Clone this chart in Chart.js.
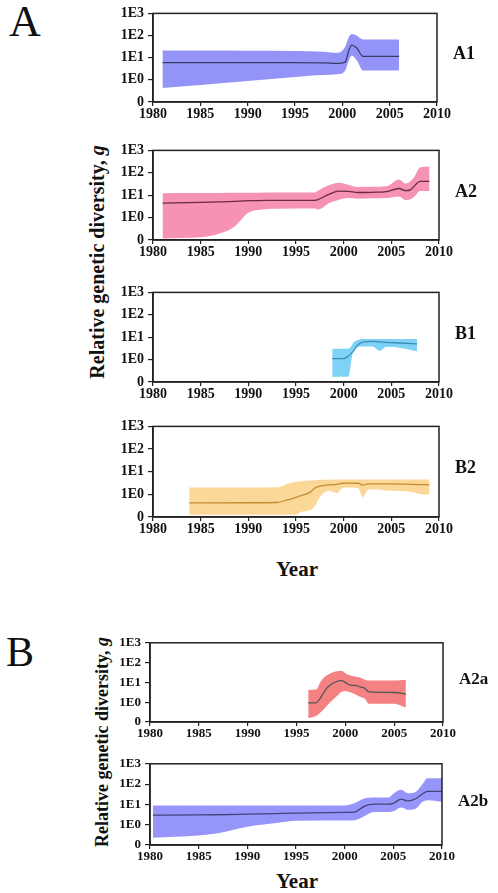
<!DOCTYPE html>
<html>
<head>
<meta charset="utf-8">
<script src="https://cdn.jsdelivr.net/npm/chart.js@4.4.1/dist/chart.umd.min.js"></script>
<style>
  body { margin: 0; background: #fff; width: 498px; height: 893px; position: relative; overflow: hidden; font-family: "Liberation Serif", "Times New Roman", serif; }
  canvas { position: absolute; }
  .lbl { position: absolute; font-weight: bold; color: #111; white-space: nowrap; }
  .big { position: absolute; font-weight: normal; color: #111; }
  .ytitle { position: absolute; font-weight: bold; color: #111; white-space: nowrap; transform: translate(-50%, -50%) rotate(-90deg); }
</style>
</head>
<body>
<div class="big" style="left:9px; top:-4px; font-size:44px;">A</div>
<div class="big" style="left:6px; top:628px; font-size:42px;">B</div>
<div class="ytitle" style="left:97px; top:262px; font-size:20px;">Relative genetic diversity, <i>g</i></div>
<div class="ytitle" style="left:102px; top:742px; font-size:18px;">Relative genetic diversity, <i>g</i></div>
<div class="lbl" style="left:297px; top:557px; font-size:21px; transform:translateX(-50%);">Year</div>
<div class="lbl" style="left:297px; top:869px; font-size:21px; transform:translateX(-50%);">Year</div>

<canvas id="cA1"></canvas>
<canvas id="cA2"></canvas>
<canvas id="cB1"></canvas>
<canvas id="cB2"></canvas>
<canvas id="cA2a"></canvas>
<canvas id="cA2b"></canvas>

<script>
// y values are log10(g); the bottom tick "0" sits at -1
const yTickValues = [-1, 0, 1, 2, 3];
const yTickLabels = ['0', '1E0', '1E1', '1E2', '1E3'];
const xTicks = [1980, 1985, 1990, 1995, 2000, 2005, 2010];

// A1
const a1Years  = [1981, 1985, 1990, 1995, 1998, 1999.5, 2000.3, 2000.7, 2001, 2001.5, 2002.2, 2004, 2006];
const a1Upper  = [1.32, 1.32, 1.31, 1.30, 1.27, 1.22, 1.50, 1.95, 2.07, 2.00, 1.82, 1.82, 1.82];
const a1Median = [0.78, 0.78, 0.78, 0.78, 0.77, 0.74, 0.80, 1.35, 1.57, 1.45, 1.06, 1.06, 1.06];
const a1Lower  = [-0.37, -0.23, -0.05, 0.13, 0.22, 0.25, 0.42, 0.90, 1.10, 0.90, 0.42, 0.42, 0.42];

// A2
const a2Years  = [1981, 1985, 1987, 1988.5, 1990, 1991, 1993, 1997, 1997.3, 1998.5, 1999.5, 2000.5, 2001.5, 2003, 2004.5, 2005.8, 2006.5, 2007, 2007.5, 2008, 2009];
const a2Upper  = [1.09, 1.10, 1.10, 1.11, 1.11, 1.11, 1.12, 1.12, 1.20, 1.45, 1.56, 1.47, 1.37, 1.38, 1.40, 1.70, 1.52, 1.62, 1.88, 2.24, 2.28];
const a2Median = [0.65, 0.68, 0.70, 0.72, 0.76, 0.76, 0.77, 0.77, 0.80, 1.05, 1.18, 1.17, 1.12, 1.13, 1.16, 1.30, 1.20, 1.24, 1.45, 1.62, 1.62];
const a2Lower  = [-0.93, -0.88, -0.71, -0.42, 0.22, 0.34, 0.40, 0.41, 0.36, 0.65, 0.80, 0.87, 0.84, 0.86, 0.87, 0.94, 0.78, 0.82, 0.98, 1.19, 1.19];

// B1
const b1Years  = [1998.8, 2000, 2000.5, 2000.8, 2001, 2001.5, 2002, 2003, 2003.8, 2004.5, 2006, 2007.7];
const b1Upper  = [0.47, 0.48, 0.49, 0.60, 0.75, 0.88, 0.92, 0.92, 0.92, 0.92, 0.92, 0.92];
const b1Median = [0.04, 0.04, 0.16, 0.28, 0.37, 0.66, 0.78, 0.81, 0.79, 0.77, 0.74, 0.70];
const b1Lower  = [-0.78, -0.77, -0.75, -0.06, 0.37, 0.55, 0.58, 0.59, 0.40, 0.57, 0.52, 0.37];

// B2
const b2Years  = [1983.8, 1990, 1993, 1994, 1995, 1995.5, 1996.5, 1997, 1997.5, 1998, 1998.5, 1999.3, 1999.8, 2000.5, 2001.5, 2002, 2002.5, 2003, 2005, 2007, 2008, 2009];
const b2Upper  = [0.30, 0.30, 0.31, 0.45, 0.56, 0.58, 0.61, 0.62, 0.63, 0.64, 0.65, 0.66, 0.66, 0.66, 0.66, 0.66, 0.66, 0.66, 0.66, 0.66, 0.66, 0.66];
const b2Median = [-0.38, -0.37, -0.36, -0.26, -0.13, -0.06, 0.10, 0.28, 0.36, 0.40, 0.42, 0.44, 0.49, 0.50, 0.49, 0.41, 0.46, 0.46, 0.46, 0.44, 0.43, 0.42];
const b2Lower  = [-0.90, -0.90, -0.90, -0.90, -0.90, -0.78, -0.69, -0.50, -0.13, 0.09, 0.16, 0.05, 0.26, 0.30, 0.28, -0.13, 0.18, 0.23, 0.16, 0.12, 0.02, -0.01];

// A2a
const a2aYears  = [1996.2, 1997, 1997.5, 1998, 1998.5, 1999, 1999.6, 2000, 2000.5, 2001, 2001.5, 2002, 2002.4, 2005, 2006.2];
const a2aUpper  = [0.62, 0.64, 1.06, 1.32, 1.46, 1.55, 1.59, 1.46, 1.35, 1.30, 1.25, 1.14, 1.09, 1.09, 1.14];
const a2aMedian = [-0.03, -0.03, 0.25, 0.65, 0.88, 1.02, 1.09, 1.00, 0.86, 0.85, 0.78, 0.70, 0.52, 0.49, 0.41];
const a2aLower  = [-0.81, -0.70, -0.50, -0.24, 0.02, 0.25, 0.52, 0.57, 0.50, 0.40, 0.28, 0.17, -0.08, -0.08, -0.27];

// A2b
const a2bYears  = [1980.3, 1985, 1987, 1990, 1993, 1995, 2000, 2001, 2002, 2003, 2004.5, 2005, 2005.8, 2006.5, 2007.3, 2008, 2008.5, 2010];
const a2bUpper  = [0.94, 0.94, 0.94, 0.94, 0.94, 0.94, 0.95, 1.06, 1.29, 1.34, 1.34, 1.53, 1.72, 1.55, 1.61, 2.00, 2.29, 2.29];
const a2bMedian = [0.47, 0.48, 0.49, 0.52, 0.55, 0.57, 0.61, 0.62, 0.90, 1.01, 1.01, 1.05, 1.26, 1.17, 1.28, 1.52, 1.64, 1.64];
const a2bLower  = [-0.64, -0.53, -0.42, -0.10, 0.08, 0.19, 0.21, 0.22, 0.42, 0.63, 0.62, 0.66, 0.85, 0.74, 0.79, 1.13, 1.21, 1.13];

const frame = {
  id: 'frame',
  afterDraw(chart) {
    const a = chart.chartArea, ctx = chart.ctx;
    ctx.save();
    ctx.strokeStyle = '#222';
    ctx.lineWidth = 1.5;
    ctx.strokeRect(a.left, a.top, a.right - a.left, a.bottom - a.top);
    ctx.restore();
  }
};

function pts(xs, ys) {
  return xs.map((x, i) => ({ x: x, y: ys[i] }));
}

function makePanel(id, box, years, upper, median, lower, band, line, name, nameSize, tickSize) {
  const padL = 46, padT = 9, padR = 26, padB = 26;
  const cv = document.getElementById(id);
  const w = box.right - box.left + padL + padR;
  const h = box.bottom - box.top + padT + padB;
  cv.width = w; cv.height = h;
  cv.style.left = (box.left - padL) + 'px';
  cv.style.top = (box.top - padT) + 'px';
  cv.style.width = w + 'px';
  cv.style.height = h + 'px';

  const lab = document.createElement('div');
  lab.className = 'lbl';
  lab.textContent = name;
  lab.style.fontSize = nameSize + 'px';
  lab.style.left = (box.right + 16) + 'px';
  lab.style.top = ((box.top + box.bottom) / 2 - 2 - nameSize * 0.6) + 'px';
  document.body.appendChild(lab);

  const tickFont = { family: '"Liberation Serif", serif', weight: 'bold', size: tickSize };
  new Chart(cv.getContext('2d'), {
    type: 'line',
    data: {
      datasets: [
        // median first so it is drawn above the band
        { data: pts(years, median), borderColor: line, borderWidth: 1.3, pointRadius: 0, fill: false, cubicInterpolationMode: 'monotone' },
        { data: pts(years, upper), borderWidth: 0, pointRadius: 0, fill: false, cubicInterpolationMode: 'monotone' },
        { data: pts(years, lower), borderWidth: 0, pointRadius: 0, fill: '-1', backgroundColor: band, cubicInterpolationMode: 'monotone' }
      ]
    },
    options: {
      responsive: false,
      animation: false,
      layout: { padding: { top: padT, right: padR, left: 0, bottom: 0 } },
      plugins: { legend: { display: false }, tooltip: { enabled: false } },
      scales: {
        x: {
          type: 'linear', min: 1980, max: 2010,
          afterBuildTicks: s => { s.ticks = xTicks.map(v => ({ value: v })); },
          afterFit: s => { s.height = padB; },
          grid: { display: true, drawOnChartArea: false, tickLength: 4, color: '#222', lineWidth: 1.2 },
          border: { display: true, color: '#222', width: 1.5 },
          ticks: { color: '#111', font: tickFont, padding: 0, maxRotation: 0, autoSkip: false, callback: v => String(v) }
        },
        y: {
          type: 'linear', min: -1, max: 3,
          afterBuildTicks: s => { s.ticks = yTickValues.map(v => ({ value: v })); },
          afterFit: s => { s.width = padL; },
          grid: { display: true, drawOnChartArea: false, tickLength: 5, color: '#222', lineWidth: 1.2 },
          border: { display: true, color: '#222', width: 1.5 },
          ticks: {
            color: '#111', font: tickFont, padding: 4, autoSkip: false,
            callback: v => yTickLabels[yTickValues.indexOf(v)]
          }
        }
      }
    },
    plugins: [frame]
  });
}

makePanel('cA1',  { left: 153, right: 437, top: 10,  bottom: 102 }, a1Years,  a1Upper,  a1Median,  a1Lower,  'rgba(148,148,248,1)', '#3b3b66', 'A1', 18, 14);
makePanel('cA2',  { left: 153, right: 439, top: 147, bottom: 240 }, a2Years,  a2Upper,  a2Median,  a2Lower,  'rgba(246,146,178,1)', '#6b2b45', 'A2', 18, 14);
makePanel('cB1',  { left: 153, right: 439, top: 289, bottom: 382 }, b1Years,  b1Upper,  b1Median,  b1Lower,  'rgba(125,210,245,1)', '#3f8fb3', 'B1', 18, 14);
makePanel('cB2',  { left: 153, right: 439, top: 423, bottom: 517 }, b2Years,  b2Upper,  b2Median,  b2Lower,  'rgba(252,216,152,1)', '#c48c32', 'B2', 18, 14);
makePanel('cA2a', { left: 150, right: 443, top: 640, bottom: 722 }, a2aYears, a2aUpper, a2aMedian, a2aLower, 'rgba(245,130,130,1)', '#555555', 'A2a', 17, 13);
makePanel('cA2b', { left: 150, right: 442, top: 761, bottom: 845 }, a2bYears, a2bUpper, a2bMedian, a2bLower, 'rgba(150,150,250,1)', '#44447a', 'A2b', 17, 13);
</script>
</body>
</html>
